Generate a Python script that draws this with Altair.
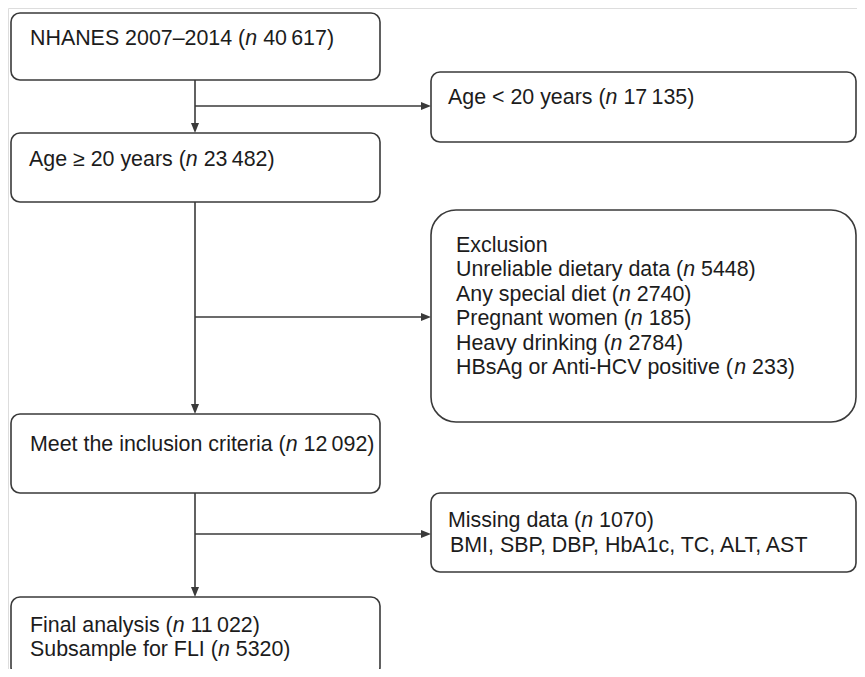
import altair as alt
import pandas as pd

# ---------------- content ----------------
n_values = ["40\u2009617", "17\u2009135", "23\u2009482", "5448", "2740", "185",
            "2784", "233", "12\u2009092", "1070", "11\u2009022", "5320"]
n_labels = ["NHANES 2007\u20132014", "Age < 20 years", "Age \u2265 20 years",
            "Unreliable dietary data", "Any special diet", "Pregnant women",
            "Heavy drinking", "HBsAg or Anti-HCV positive",
            "Meet the inclusion criteria", "Missing data",
            "Final analysis", "Subsample for FLI"]
plain_labels = ["Exclusion", "BMI, SBP, DBP, HbA1c, TC, ALT, AST"]

# ---------------- layout (pixel positions of the flowchart) ----------------
FONT = "Liberation Sans"
FS = 21.4
INK = "#1c1c1c"
LINE = "#3a3a3a"

# boxes: x1, x2, y1, y2
box_x1 = [11, 431, 11, 11, 431, 11]
box_x2 = [380, 856, 380, 380, 856, 380]
box_y1 = [13, 72, 133, 414, 493, 597]
box_y2 = [80, 142, 202, 493, 572, 676]
excl_box = dict(x1=[431], x2=[856], y1=[210], y2=[422])

# connector lines
seg_x1 = [195, 195, 195, 195, 195, 195]
seg_x2 = [195, 426, 195, 426, 195, 426]
seg_y1 = [80, 106, 202, 317, 493, 534]
seg_y2 = [128, 106, 409, 317, 592, 534]
down_tips = dict(x=[195, 195, 195], y=[133, 414, 597])
right_tips = dict(x=[431, 431, 431], y=[106, 317, 534])

# text line anchors: (x0, baseline y, kind, index)
text_lines = [
    (30, 45, "n", 0),
    (448, 104, "n", 1),
    (29, 166, "n", 2),
    (456, 251.5, "p", 0),
    (456, 276, "n", 3),
    (456, 300.5, "n", 4),
    (456, 325, "n", 5),
    (456, 349.5, "n", 6),
    (456, 374, "n", 7),
    (30, 450.5, "n", 8),
    (448, 527, "n", 9),
    (450, 551.5, "p", 1),
    (30, 632, "n", 10),
    (30, 656, "n", 11),
]

# Arial / Liberation Sans advance widths (per 1000 em)
AW = {" ": 278, "(": 333, ")": 333, ",": 278, "-": 333, ".": 278, "<": 584,
      ">": 584, "\u2265": 549, "\u2013": 556, "\u2009": 200}
for d in "0123456789":
    AW[d] = 556
AW.update(dict(zip("ABCDEFGHIJKLMNOPQRSTUVWXYZ",
                   [667, 667, 722, 722, 667, 611, 778, 722, 278, 500, 667, 556, 833,
                    722, 778, 667, 778, 722, 667, 611, 722, 667, 944, 667, 667, 611])))
AW.update(dict(zip("abcdefghijklmnopqrstuvwxyz",
                   [556, 556, 500, 556, 556, 278, 556, 556, 222, 222, 500, 222, 833,
                    556, 556, 556, 556, 333, 500, 278, 556, 500, 722, 500, 500, 500])))


def tw(s):
    return sum(AW.get(c, 556) for c in s) * FS / 1000.0


normal_rows, italic_rows = [], []
for x0, yb, kind, i in text_lines:
    if kind == "p":
        normal_rows.append(dict(x=x0, y=yb, t=plain_labels[i]))
        continue
    runs = [(n_labels[i] + " (", False), ("n", True), (" " + n_values[i] + ")", False)]
    cx = x0
    for txt, ital in runs:
        stripped = txt.lstrip(" ")
        lead = tw(txt[: len(txt) - len(stripped)])
        row = dict(x=cx + lead, y=yb, t=stripped)
        (italic_rows if ital else normal_rows).append(row)
        cx += tw(txt)

# ---------------- chart ----------------
XS = alt.Scale(domain=[8, 857], nice=False, zero=False)
YS = alt.Scale(domain=[8, 669], nice=False, zero=False, reverse=True)


def X(f):
    return alt.X(f, type="quantitative", scale=XS, axis=None)


def Y(f):
    return alt.Y(f, type="quantitative", scale=YS, axis=None)


boxes = pd.DataFrame(dict(x1=box_x1, x2=box_x2, y1=box_y1, y2=box_y2))
box_layer = alt.Chart(boxes).mark_rect(
    fill="white", stroke=LINE, strokeWidth=1.6, cornerRadius=9, clip=True
).encode(x=X("x1"), x2="x2", y=Y("y1"), y2="y2")

excl_layer = alt.Chart(pd.DataFrame(excl_box)).mark_rect(
    fill="white", stroke=LINE, strokeWidth=1.6, cornerRadius=25
).encode(x=X("x1"), x2="x2", y=Y("y1"), y2="y2")

segs = pd.DataFrame(dict(x1=seg_x1, x2=seg_x2, y1=seg_y1, y2=seg_y2))
seg_layer = alt.Chart(segs).mark_rule(color=LINE, strokeWidth=1.6).encode(
    x=X("x1"), x2="x2", y=Y("y1"), y2="y2"
)

down_layer = alt.Chart(pd.DataFrame(down_tips)).mark_point(
    shape="M-0.8,-2L0,0L0.8,-2Z", size=100, filled=True, fill=LINE, opacity=1, strokeWidth=0
).encode(x=X("x"), y=Y("y"))

right_layer = alt.Chart(pd.DataFrame(right_tips)).mark_point(
    shape="M-2,-0.8L0,0L-2,0.8Z", size=100, filled=True, fill=LINE, opacity=1, strokeWidth=0
).encode(x=X("x"), y=Y("y"))

text_normal = alt.Chart(pd.DataFrame(normal_rows)).mark_text(
    font=FONT, fontSize=FS, color=INK, align="left", baseline="alphabetic"
).encode(x=X("x"), y=Y("y"), text="t:N")

text_italic = alt.Chart(pd.DataFrame(italic_rows)).mark_text(
    font=FONT, fontSize=FS, color=INK, align="left", baseline="alphabetic", fontStyle="italic"
).encode(x=X("x"), y=Y("y"), text="t:N")

chart = alt.layer(
    seg_layer, box_layer, excl_layer, down_layer, right_layer, text_normal, text_italic
).properties(
    width=849, height=661, padding=0, autosize=alt.AutoSizeParams(type="none")
).configure_view(strokeWidth=0, stroke="transparent").configure(background="white")

chart.save("out.html", embed_options={"renderer": "svg", "actions": False})
